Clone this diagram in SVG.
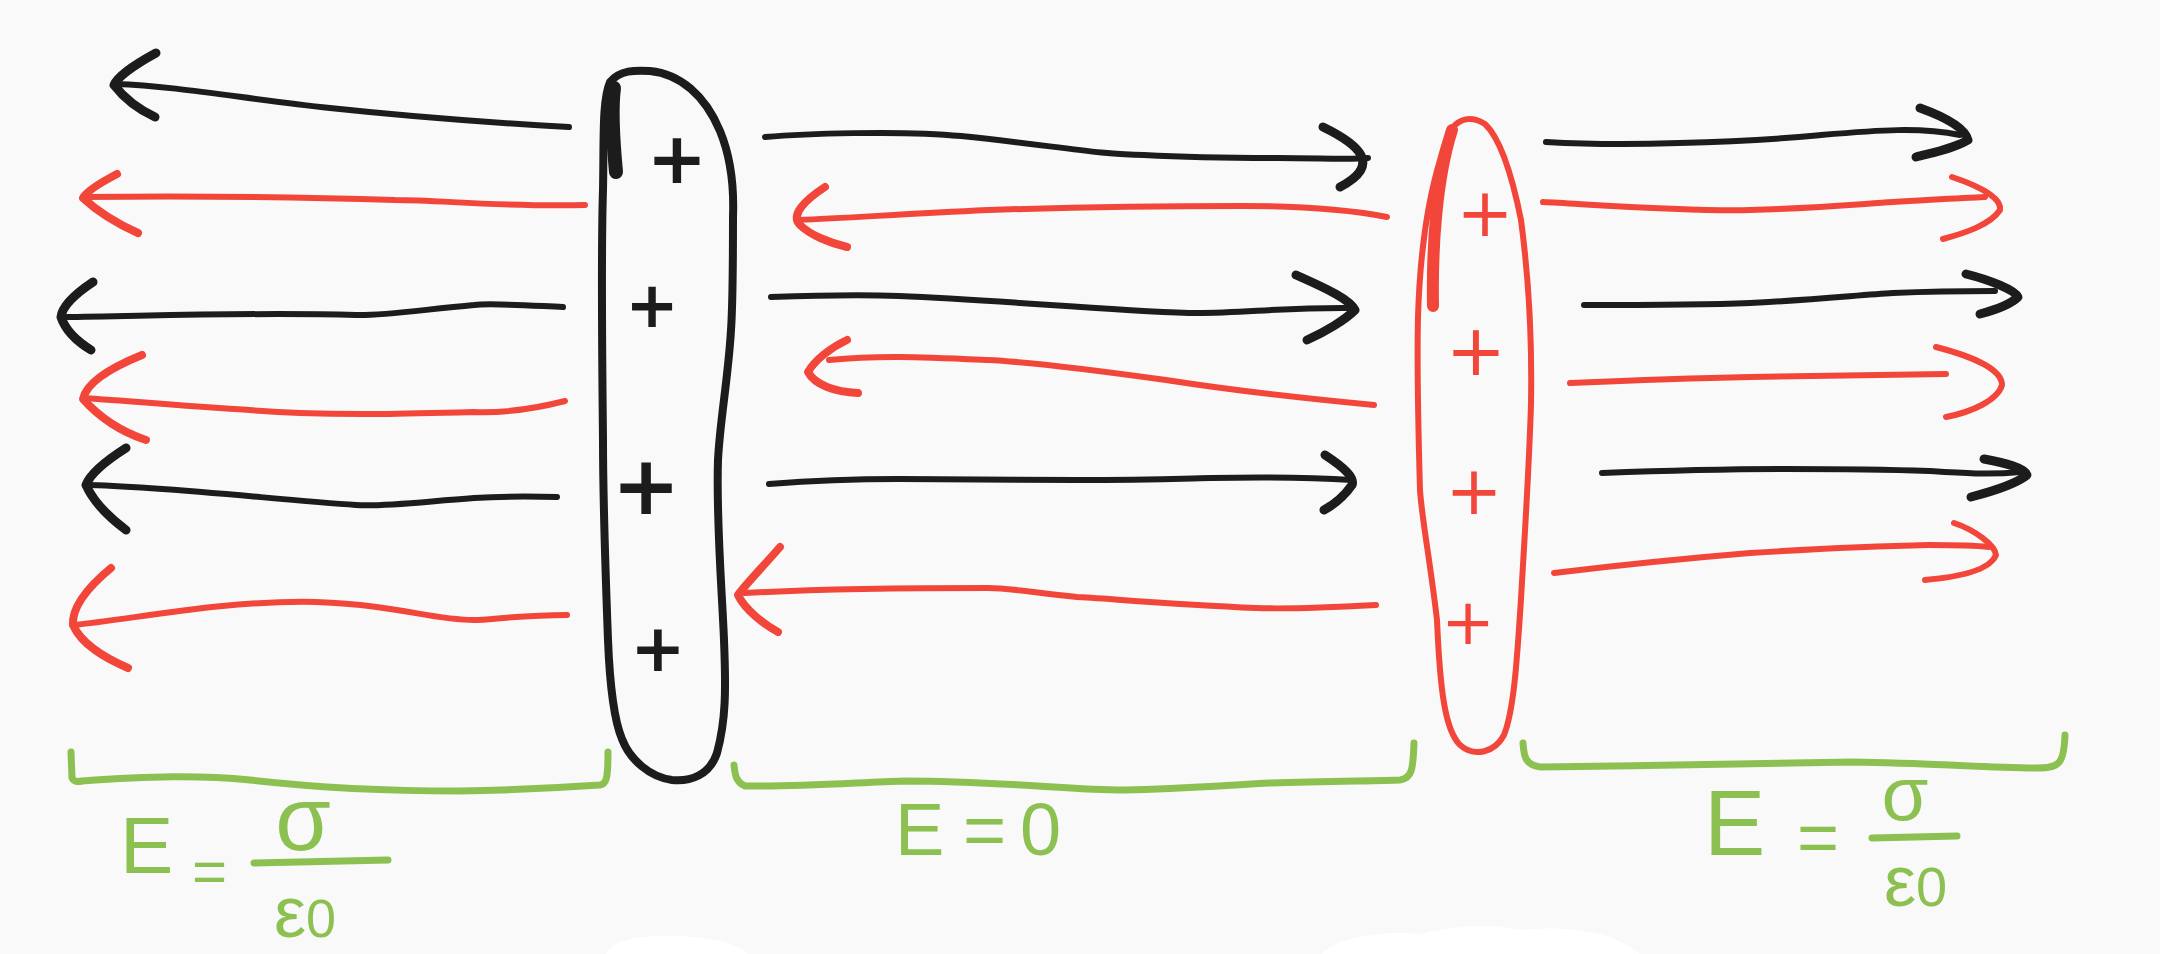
<svg xmlns="http://www.w3.org/2000/svg" width="2160" height="954" viewBox="0 0 2160 954">
<style>
.k{fill:none;stroke:#1c1c1c;stroke-width:6;stroke-linecap:round;stroke-linejoin:round}
.kh{fill:none;stroke:#1c1c1c;stroke-width:9;stroke-linecap:round;stroke-linejoin:round}
.r{fill:none;stroke:#f2463a;stroke-width:6;stroke-linecap:round;stroke-linejoin:round}
.rh{fill:none;stroke:#f2463a;stroke-width:8;stroke-linecap:round;stroke-linejoin:round}
.g{fill:none;stroke:#8cc152;stroke-width:7;stroke-linecap:round;stroke-linejoin:round}
.gt{fill:#8cc152;font-family:"Liberation Sans","DejaVu Sans",sans-serif}
.pk{fill:#1c1c1c;font-family:"DejaVu Sans",sans-serif;font-weight:bold;text-anchor:middle;dominant-baseline:central}
.pr{fill:#f2463a;font-family:"DejaVu Sans",sans-serif;text-anchor:middle;dominant-baseline:central}
</style>
<rect width="2160" height="954" fill="#f9f9f9"/>
<g id="scan-marks" fill="#ffffff">
<path d="M606,954 C612,940 640,934 680,936 C715,938 740,944 748,954 Z"/>
<path d="M1322,954 C1335,938 1380,930 1420,934 C1450,926 1490,922 1520,930 C1560,926 1610,928 1640,954 Z"/>
</g>
<g id="connectors">
<g id="left-arrows">
<path class="k" d="M569,127 C480,122 395,115 330,108 C250,100 180,86 115,84"/>
<path class="kh" d="M156,53 C132,66 117,78 114,85 C124,98 140,110 155,117"/>
<path class="r" d="M585,205 C500,207 440,200 395,200 C300,197 180,196 83,197"/>
<path class="rh" d="M117,174 C98,184 86,192 83,198 C98,212 118,224 138,233"/>
<path class="k" d="M563,307 C520,305 490,303 474,305 C420,310 380,316 356,315 C250,312 150,316 63,317"/>
<path class="kh" d="M93,282 C72,296 62,308 61,317 C66,332 78,342 91,350"/>
<path class="r" d="M565,401 C530,410 500,413 474,412 C400,414 356,415 300,413 C200,408 120,400 83,398"/>
<path class="rh" d="M142,355 C105,370 86,385 83,399 C100,418 122,432 146,440"/>
<path class="k" d="M557,497 C520,496 490,497 474,498 C420,502 380,507 356,505 C280,500 160,486 85,485"/>
<path class="kh" d="M126,448 C104,462 90,474 86,485 C94,503 110,518 126,530"/>
<path class="r" d="M567,615 C520,615 490,620 474,620 C430,620 400,605 316,602 C220,600 130,620 73,625"/>
<path class="rh" d="M111,568 C82,592 72,610 73,625 C82,645 105,658 128,668"/>
</g>
<g id="middle-arrows">
<path class="k" d="M765,137 C800,134 900,130 961,136 C1050,145 1100,155 1144,155 C1200,158 1250,158 1278,158 C1320,158 1350,160 1368,158"/>
<path class="kh" d="M1323,127 C1360,145 1382,165 1340,187"/>
<path class="r" d="M1387,217 C1340,208 1290,206 1242,206 C1150,206 1050,208 988,210 C900,214 850,218 798,220"/>
<path class="rh" d="M825,187 C805,200 790,215 800,225 C810,235 830,243 847,247"/>
<path class="k" d="M771,297 C830,295 870,295 899,296 C1000,300 1100,310 1189,313 C1240,314 1280,307 1354,308"/>
<path class="kh" d="M1296,275 C1330,290 1350,300 1355,310 C1345,320 1325,332 1307,340"/>
<path class="r" d="M1374,405 C1300,398 1230,390 1166,380 C1080,368 1030,362 988,360 C920,357 880,355 829,360"/>
<path class="rh" d="M847,340 C830,348 815,360 808,372 C815,385 835,392 858,393"/>
<path class="k" d="M769,484 C820,480 860,479 899,479 C960,479 1020,480 1077,480 C1150,480 1200,478 1211,478 C1260,477 1320,478 1352,480"/>
<path class="kh" d="M1325,455 C1345,468 1355,478 1352,485 C1345,495 1335,504 1324,510"/>
<path class="r" d="M1376,605 C1320,608 1280,609 1256,608 C1170,604 1100,598 1077,597 C1030,592 1010,588 988,588 C900,588 800,590 745,593"/>
<path class="rh" d="M780,547 C760,570 745,585 738,595 C745,610 765,625 778,632"/>
</g>
<g id="right-arrows">
<path class="k" d="M1546,142 C1600,145 1650,144 1679,143 C1760,141 1800,137 1821,135 C1880,130 1920,127 1960,135"/>
<path class="kh" d="M1920,108 C1945,117 1965,128 1968,140 C1955,148 1935,152 1916,157"/>
<path class="r" d="M1543,202 C1600,205 1700,212 1750,210 C1820,208 1860,204 1893,202 C1930,200 1960,198 1985,197"/>
<path class="r" d="M1952,177 C1985,188 2002,200 2000,210 C1990,225 1965,233 1943,239"/>
<path class="k" d="M1584,305 C1650,305 1700,305 1750,303 C1810,300 1860,295 1893,293 C1940,291 1970,291 1995,291"/>
<path class="kh" d="M1966,274 C1990,280 2015,290 2018,297 C2010,305 1995,310 1980,314"/>
<path class="r" d="M1570,383 C1640,380 1700,378 1750,377 C1830,376 1900,375 1946,374"/>
<path class="r" d="M1936,347 C1975,357 2002,370 2002,385 C1998,400 1972,412 1946,417"/>
<path class="k" d="M1602,473 C1680,470 1730,469 1786,469 C1850,469 1900,470 1929,471 C1960,473 1990,475 2020,472"/>
<path class="kh" d="M1984,459 C2005,463 2025,468 2027,475 C2015,485 1990,492 1971,497"/>
<path class="r" d="M1554,573 C1620,565 1690,558 1750,553 C1830,548 1880,546 1929,545 C1960,545 1980,546 1989,547"/>
<path class="r" d="M1954,523 C1975,530 1995,545 1996,555 C1990,570 1960,577 1925,580"/>
</g>
</g>
<g id="black-plate">
<path fill="none" stroke="#1c1c1c" stroke-width="8" stroke-linejoin="round" d="M610,82 C620,70 635,70 650,71 C680,74 705,95 720,131 C732,160 734,190 733,217 C733,260 733,300 731,330 C728,380 720,420 718,460 C716,520 722,590 724,640 C726,690 726,720 717,753 C710,775 690,782 672,780 C650,777 630,760 622,739 C614,720 610,690 608,640 C605,560 603,500 603,440 C602,350 601,250 603,190 C604,140 602,100 610,82 Z"/>
<path fill="none" stroke="#1c1c1c" stroke-width="14" stroke-linecap="round" d="M616,172 C613,140 611,110 614,88"/>
<text class="pk" x="677" y="158" font-size="72">+</text>
<text class="pk" x="652" y="305" font-size="64">+</text>
<text class="pk" x="646" y="485" font-size="82">+</text>
<text class="pk" x="658" y="648" font-size="66">+</text>
</g>
<g id="red-plate">
<path fill="none" stroke="#f2463a" stroke-width="6" stroke-linejoin="round" d="M1455,125 C1465,116 1475,118 1485,124 C1502,140 1513,180 1521,220 C1529,280 1532,350 1531,404 C1529,470 1525,530 1521,599 C1517,660 1514,710 1504,735 C1495,752 1475,758 1460,745 C1445,730 1440,690 1437,620 C1430,560 1422,520 1420,490 C1418,420 1417,360 1418,317 C1420,250 1428,200 1440,160 C1445,142 1448,132 1455,125 Z"/>
<path fill="none" stroke="#f2463a" stroke-width="12" stroke-linecap="round" d="M1433,306 C1432,250 1436,180 1452,130"/>
<text class="pr" x="1485" y="212" font-size="68">+</text>
<text class="pr" x="1476" y="350" font-size="72">+</text>
<text class="pr" x="1474" y="490" font-size="68">+</text>
<text class="pr" x="1468" y="622" font-size="64">+</text>
</g>
<g id="bracket-left">
<path class="g" d="M71,752 L72,778 C74,782 78,782 82,781 C150,776 200,775 250,780 C320,788 400,791 459,791 C520,790 570,787 600,785 C606,784 608,780 608,752"/>
</g>
<g id="bracket-middle">
<path class="g" d="M734,765 C735,775 736,782 745,786 C790,787 850,783 904,781 C1000,781 1070,790 1124,790 C1180,789 1230,785 1271,783 C1330,781 1380,781 1400,780 C1412,778 1413,770 1414,743"/>
</g>
<g id="bracket-right">
<path class="g" d="M1523,743 C1524,755 1524,765 1541,767 C1650,766 1780,763 1853,762 C1930,763 1990,768 2037,768 C2060,768 2064,763 2065,735"/>
</g>
<g id="label-left">
<text class="gt" x="120" y="873" font-size="80">E</text>
<text class="gt" x="192" y="892" font-size="60">=</text>
<text class="gt" x="303" y="850" font-size="90" text-anchor="middle">σ</text>
<line class="g" x1="254" y1="863" x2="388" y2="860"/>
<text class="gt" x="274" y="937" font-size="72">ε<tspan font-size="54">0</tspan></text>
</g>
<g id="label-middle">
<text class="gt" y="855" font-size="74" x="895 963 1020">E=0</text>
</g>
<g id="label-right">
<text class="gt" x="1704" y="855" font-size="92">E</text>
<text class="gt" x="1797" y="862" font-size="72">=</text>
<text class="gt" x="1905" y="820" font-size="76" text-anchor="middle">σ</text>
<line class="g" x1="1872" y1="838" x2="1957" y2="836"/>
<text class="gt" x="1884" y="906" font-size="72">ε<tspan font-size="56">0</tspan></text>
</g>
</svg>
